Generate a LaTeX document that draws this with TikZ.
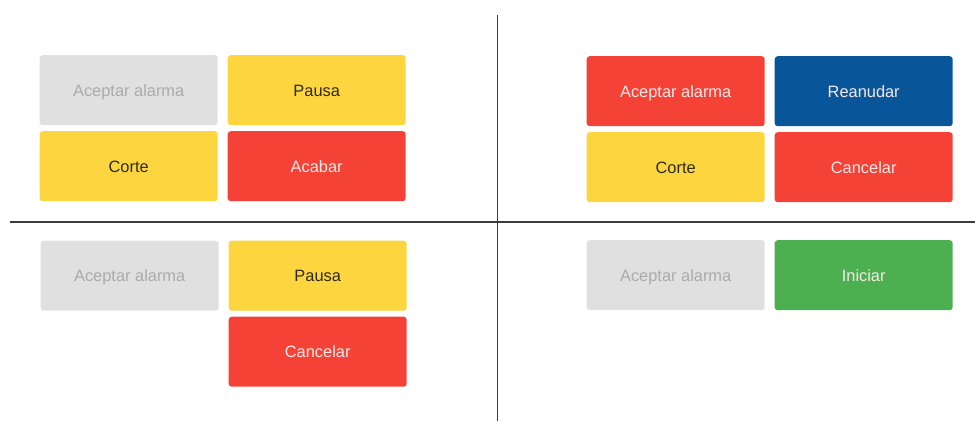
\documentclass[tikz,border=0pt]{standalone}
\usepackage{fontspec}
\setmainfont{Liberation Sans}
\definecolor{btngrey}{HTML}{E0E0E0}
\definecolor{btngreytxt}{HTML}{ABABAB}
\definecolor{btnyellow}{HTML}{FDD63F}
\definecolor{btnred}{HTML}{F44336}
\definecolor{btnblue}{HTML}{085699}
\definecolor{btngreen}{HTML}{4CAF50}
\definecolor{darktxt}{HTML}{2E2A1A}
\definecolor{lighttxt}{HTML}{F8E8E8}
\definecolor{divider}{HTML}{3C3C3C}
\begin{document}
\begin{tikzpicture}[x=1pt,y=-1pt,
  btn/.style={rounded corners=3pt, minimum width=178pt, minimum height=70pt, inner sep=0pt, text height=11.7pt, text depth=0pt, anchor=north west, font=\fontsize{16.4}{19}\selectfont},
  greybtn/.style={btn, fill=btngrey, text=btngreytxt},
  yellowbtn/.style={btn, fill=btnyellow, text=darktxt},
  redbtn/.style={btn, fill=btnred, text=lighttxt},
  bluebtn/.style={btn, fill=btnblue, text=lighttxt},
  greenbtn/.style={btn, fill=btngreen, text=lighttxt},
  divline/.style={draw=divider, line width=1.3pt}]
\useasboundingbox (0,0) rectangle (975,421);
% top-left
\node[greybtn] (tl1) at (39.5,55) {Aceptar alarma};
\node[yellowbtn] (tl2) at (227.5,55) {Pausa};
\node[yellowbtn] (tl3) at (39.5,131) {Corte};
\node[redbtn] (tl4) at (227.5,131) {Acabar};
% top-right
\node[redbtn] (tr1) at (586.5,56) {Aceptar alarma};
\node[bluebtn] (tr2) at (774.5,56) {Reanudar};
\node[yellowbtn] (tr3) at (586.5,132) {Corte};
\node[redbtn] (tr4) at (774.5,132) {Cancelar};
% bottom-left
\node[greybtn] (bl1) at (40.5,240.5) {Aceptar alarma};
\node[yellowbtn] (bl2) at (228.5,240.5) {Pausa};
\node[redbtn] (bl3) at (228.5,316.5) {Cancelar};
% bottom-right
\node[greybtn] (br1) at (586.5,240) {Aceptar alarma};
\node[greenbtn] (br2) at (774.5,240) {Iniciar};
% dividers
\coordinate (vtop) at (497.5,15);
\coordinate (vbot) at (497.5,421);
\coordinate (hleft) at (10,222);
\coordinate (hright) at (975,222);
\draw[divline] (vtop) -- (vbot);
\draw[divline] (hleft) -- (hright);
\end{tikzpicture}
\end{document}
